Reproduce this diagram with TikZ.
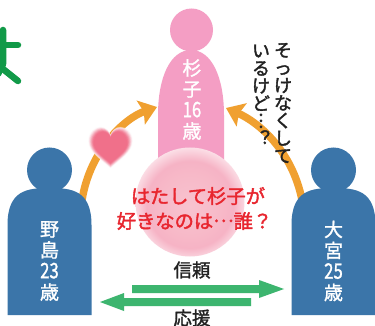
\documentclass[tikz,border=0pt]{standalone}
\usepackage{fontspec}
\usetikzlibrary{arrows.meta}
\newfontfamily\jp[RawFeature={embolden=1.4}]{Noto Sans CJK JP}
\newfontfamily\jpb[RawFeature={embolden=2}]{Noto Sans CJK JP}
\definecolor{figblue}{HTML}{3B75A9}
\definecolor{figpink}{HTML}{F49EC4}
\definecolor{arcorange}{HTML}{F0A030}
\definecolor{bandgreen}{HTML}{3DB56F}
\definecolor{titlegreen}{HTML}{119A48}
\definecolor{rose}{HTML}{F0708A}
\definecolor{redtext}{HTML}{E8262F}
\definecolor{inktext}{HTML}{222222}
\definecolor{ballA}{HTML}{F8C3CF}
\definecolor{ballB}{HTML}{F7B9C8}
\definecolor{ballC}{HTML}{F6B3C5}
\definecolor{ballD}{HTML}{FCE6EC}
\pgfdeclareradialshading{ballshade}{\pgfpoint{0bp}{-2bp}}{%
  color(0bp)=(ballA); color(14bp)=(ballB); color(20bp)=(ballC); color(27bp)=(ballD); color(50bp)=(white)}
\newcommand{\narrow}[1]{\scalebox{.88}[1.12]{#1}}
\tikzset{
  figlabel/.style={text=white,align=center,inner sep=0pt,font=\jp\fontsize{19}{21}\selectfont},
  arc/.style={draw=arcorange,line width=7.5pt,-{Stealth[length=17pt,width=25pt,inset=3pt]}},
  band/.style={fill=bandgreen,draw=none},
  say/.style={text=inktext,align=center,inner sep=0pt,font=\jpb\fontsize{18}{17.6}\selectfont},
  bandlabel/.style={text=inktext,inner sep=0pt,font=\jp\fontsize{18.5}{20}\selectfont},
  question/.style={text=redtext,inner sep=0pt,font=\jpb\fontsize{19.3}{20}\selectfont},
  titlestroke/.style={draw=titlegreen,line width=6.5pt,line cap=round,line join=round},
  person/.pic={
    \fill[pic actions] (0,0) circle (22.5);
    \fill[pic actions] (-42,145) -- (-42,55) .. controls (-42,20) and (-22,18) .. (0,18)
      .. controls (22,18) and (42,20) .. (42,55) -- (42,145) -- cycle;
  }
}
\begin{document}
\begin{tikzpicture}[x=1pt,y=-1pt]
\useasboundingbox (0,0) rectangle (375,326);
\clip (0,0) rectangle (375,326);
\fill[white] (0,0) rectangle (375,326);

% green fragment of a title at the left edge
\draw[titlestroke] (3,30) -- (3,64) -- (-2,74);
\draw[titlestroke] (-4,45) -- (18,45);
\draw[titlestroke] (-2,65) -- (18,81);

% named anchors
\coordinate (noshima) at (82,200);
\coordinate (omiya) at (302,200);
\coordinate (sugikoL) at (157,107);
\coordinate (sugikoR) at (226,108);
\coordinate (trustL) at (132,289);
\coordinate (trustR) at (284,289);

% Sugiko
\fill[figpink] (191.5,30) circle (21.5);
\fill[figpink] (158,170) -- (158,115) .. controls (158,78) and (170,50) .. (191,50)
  .. controls (212,50) and (224,78) .. (224,115) -- (224,170) -- cycle;

% orange arcs
\draw[arc] (noshima) .. controls (90,150) and (125,118) .. (sugikoL);
\draw[arc] (omiya) .. controls (292,150) and (258,122) .. (sugikoR);

% blue figures
\path[fill=figblue] (49.5,170) pic {person};
\path[fill=figblue] (333.5,170) pic {person};

% glowing ball
\shade[shading=ballshade] (190,202) circle (54.5);

% heart
\foreach \s/\c/\o in {1.01/10/.45,.98/18/.8,.95/30/1,.92/44/1,.89/58/1,.86/72/1,.83/84/1,.8/94/1,.76/100/1}{
  \begin{scope}[shift={(110.5,147)},scale=\s]
    \fill[rose!\c!white,opacity=\o] (0,21) .. controls (-10,12) and (-22,5) .. (-22,-6)
      .. controls (-22,-15) and (-15,-20) .. (-10,-20) .. controls (-5,-20) and (-1,-16) .. (0,-12)
      .. controls (1,-16) and (5,-20) .. (10,-20) .. controls (15,-20) and (22,-15) .. (22,-6)
      .. controls (22,5) and (10,12) .. (0,21) -- cycle;
  \end{scope}
}

% green arrows
\fill[band] (trustL) ++(0,-4) -- ++(127,0) -- ++(0,-5) -- (trustR) -- ++(-25,9) -- ++(0,-5) -- ++(-127,0) -- cycle;
\coordinate (backL) at (100,302);
\coordinate (backR) at (251,302);
\fill[band] (backR) ++(0,-4) -- ++(-127,0) -- ++(0,-5) -- (backL) -- ++(24,9) -- ++(0,-5) -- ++(127,0) -- cycle;

% labels
\node[figlabel] (sugiko) at (192,99.5) {杉\\子\\\narrow{16}\\歳};
\node[figlabel] (noshimaT) at (49.5,261) {野\\島\\\narrow{23}\\歳};
\node[figlabel] (omiyaT) at (333.5,261) {大\\宮\\\narrow{25}\\歳};
\node[question] (q1) at (198,196) {はたして杉子が};
\node[question] (q2) at (194.5,221) {好きなのは\raisebox{.33em}{…}誰？};
\node[bandlabel] (trust) at (192,270) {信頼};
\node[bandlabel] (support) at (192,318) {応援};
\node[say] (say1) at (283,103) {そ\\っ\\け\\な\\く\\し\\て};
\node[say] (say2) at (261,95) {い\\る\\け\\ど\\︙\\︖};
\end{tikzpicture}
\end{document}
